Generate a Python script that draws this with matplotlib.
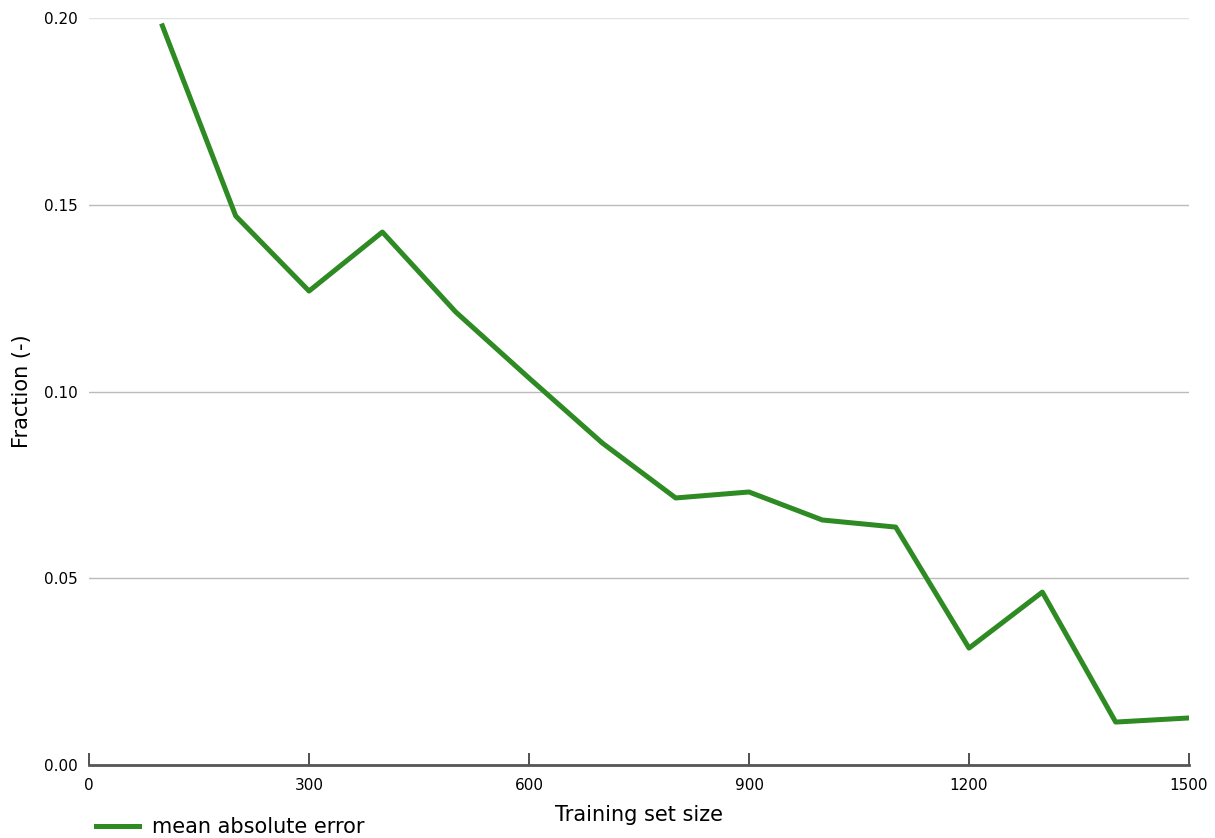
import numpy as np
import matplotlib
matplotlib.use('Agg')
import matplotlib.pyplot as plt

train_size = [100, 200, 300, 400, 500, 600, 700, 800, 900, 1000, 1100, 1200, 1300, 1400, 1500]
mae = [0.1979, 0.147, 0.1269, 0.1427, 0.1213, 0.1036, 0.0862, 0.0715, 0.0731,
       0.0656, 0.0637, 0.0313, 0.0463, 0.0115, 0.0126]
x_ticks = [0, 300, 600, 900, 1200, 1500]
y_ticks = [0.00, 0.05, 0.10, 0.15, 0.20]

fig = plt.figure(figsize=(12.15, 8.38), dpi=100)
ax = fig.add_axes([0.0733, 0.0871, 0.9053, 0.8914])

ax.plot(train_size, mae, color='#2e8a23', lw=3.6, label='mean absolute error')

ax.set_xlim(0, 1500)
ax.set_ylim(0, 0.2)
ax.set_xticks(x_ticks)
ax.set_yticks(y_ticks)
ax.set_yticklabels(['%.2f' % v for v in y_ticks])
ax.yaxis.grid(True, color='#bbbbbb', lw=1)
ax.get_ygridlines()[-1].set_color('#e2e2e2')
ax.set_axisbelow(True)
for s in ['top', 'right', 'left']:
    ax.spines[s].set_visible(False)
ax.spines['bottom'].set_color('#555555')
ax.spines['bottom'].set_linewidth(2)
ax.tick_params(axis='x', direction='in', length=9, width=1.2, color='#333333',
               labelsize=11, pad=9)
ax.tick_params(axis='y', length=0, labelsize=11, pad=8)

ax.set_xlabel('Training set size', fontsize=15, labelpad=9)
ax.set_ylabel('Fraction (-)', fontsize=15, labelpad=9)

ax.legend(loc='center left', bbox_to_anchor=(-0.011, -0.083), frameon=False,
          fontsize=15, handlelength=2.1, handletextpad=0.6)

fig.savefig('out.png', dpi=100)
